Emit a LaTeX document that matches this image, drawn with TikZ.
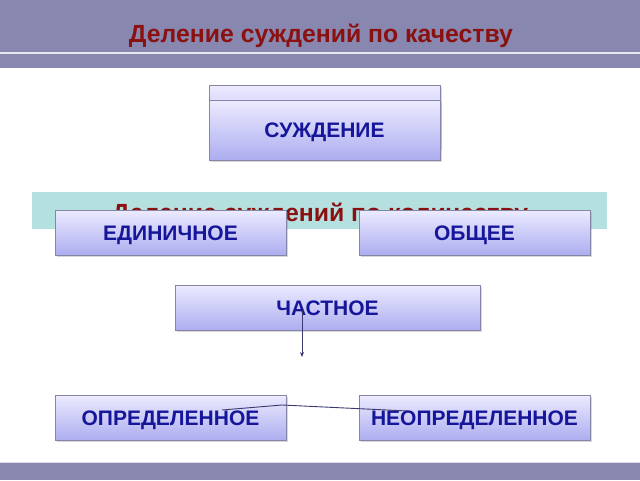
\documentclass[tikz,border=0pt]{standalone}
\usepackage{fontspec}
\setmainfont{Liberation Sans}
\usetikzlibrary{shadows,arrows.meta}
\definecolor{bandc}{HTML}{8787AF}
\definecolor{titlec}{HTML}{8B1111}
\definecolor{tealc}{HTML}{B4E0E0}
\definecolor{boxtop}{HTML}{ECEBFF}
\definecolor{boxbot}{HTML}{ADADF0}
\definecolor{boxline}{HTML}{8585A5}
\definecolor{boxtext}{HTML}{16169A}
\definecolor{linec}{HTML}{3A3A70}
\tikzset{
  catbox/.style={draw=boxline, line width=0.9pt, top color=boxtop, bottom color=boxbot,
    drop shadow={shadow xshift=1.5pt, shadow yshift=-1.5pt, opacity=0.3},
    font=\fontsize{21}{23}\selectfont\bfseries, text=boxtext, inner sep=0pt,
    text height=15pt, text depth=0pt},
  heading/.style={font=\fontsize{24.8}{27}\selectfont\bfseries, text=titlec, anchor=base, inner sep=0pt},
  conn/.style={draw=linec, line width=0.9pt}
}
\begin{document}
\begin{tikzpicture}[x=1pt,y=-1pt]
\useasboundingbox (0,0) rectangle (640,480);
\fill[white] (0,0) rectangle (640,480);
\fill[bandc] (0,0) rectangle (640,68);
\draw[white!80!bandc, line width=1.2pt] (0,53) -- (640,53);
\fill[bandc] (0,462) rectangle (640,480);
\draw[white!70!bandc, line width=0.8pt] (0,462) -- (640,462);
\node[heading] (title) at (321,42) {Деление суждений по качеству};
% teal band
\fill[tealc] (32,192) rectangle (607,229);
\node[heading] (sub) at (320,221) {Деление суждений по количеству};
% judgement
\path[catbox] (209,85) rectangle (440,148);
\node[catbox, minimum width=231pt, minimum height=60pt] (judg) at (324.5,130) {СУЖДЕНИЕ};
\node[catbox, minimum width=231pt, minimum height=45pt] (single) at (170.5,232.5) {ЕДИНИЧНОЕ};
\node[catbox, minimum width=231pt, minimum height=45pt] (general) at (474.5,232.5) {ОБЩЕЕ};
\node[catbox, minimum width=305pt, minimum height=45pt] (partial) at (327.5,307.5) {ЧАСТНОЕ};
\node[catbox, minimum width=231pt, minimum height=45pt] (def) at (170.5,417.5) {ОПРЕДЕЛЕННОЕ};
\node[catbox, minimum width=231pt, minimum height=45pt] (indef) at (474.5,417.5) {НЕОПРЕДЕЛЕННОЕ};
\coordinate (a1) at (302,310);
\coordinate (a2) at (302,357);
\draw[conn, -{Stealth[length=5pt,width=4pt]}] (a1) -- (a2);
\coordinate (b1) at (222,410);
\coordinate (b2) at (282,405);
\coordinate (b3) at (408,411);
\draw[conn] (b1) -- (b2) -- (b3);
\end{tikzpicture}
\end{document}
